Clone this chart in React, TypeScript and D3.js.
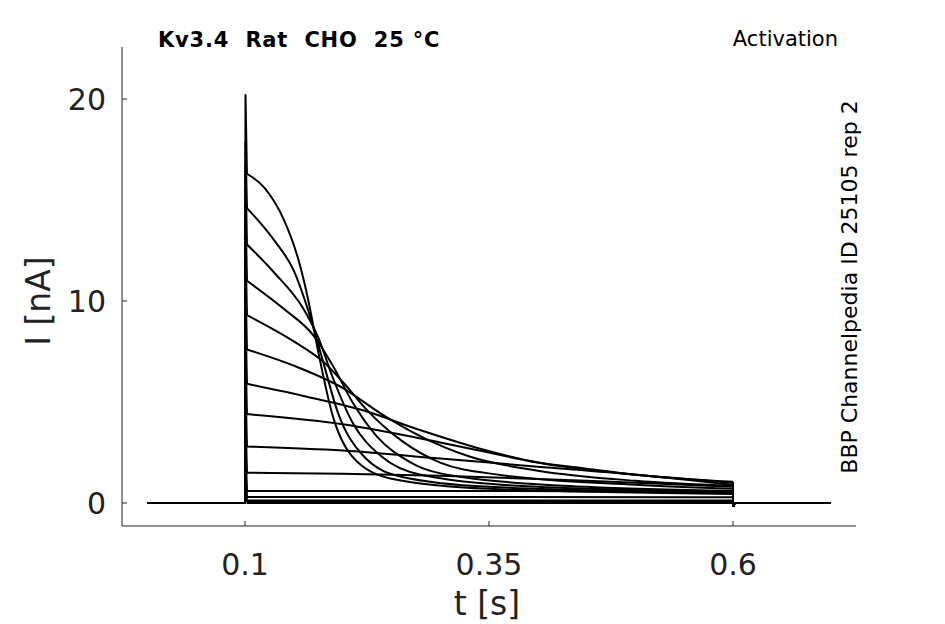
import React from 'react';
import * as d3 from 'd3';

// Samples: [t (s), I (nA)] after stimulus onset
const spikePeaks = [20.2, 17.9, 16.8, 14.8, 13.0, 11.2, 9.5, 7.8, 6.1, 4.6, 3.0, 1.7, 0.8, 0.4, 0.2];

const traces: [number, number][][] = [
  [[0.102, 16.3], [0.12, 15.6], [0.14, 14.0], [0.155, 12.0], [0.165, 10.0], [0.175, 7.5], [0.19, 4.3], [0.21, 2.3], [0.25, 1.2], [0.35, 0.7], [0.6, 0.45]],
  [[0.102, 14.6], [0.13, 13.0], [0.15, 11.5], [0.165, 9.5], [0.18, 7.0], [0.195, 4.5], [0.22, 2.4], [0.26, 1.3], [0.35, 0.8], [0.6, 0.5]],
  [[0.102, 12.8], [0.13, 11.4], [0.16, 9.6], [0.175, 8.2], [0.19, 6.2], [0.21, 4.0], [0.24, 2.3], [0.28, 1.4], [0.4, 0.8], [0.6, 0.55]],
  [[0.102, 11.0], [0.14, 9.6], [0.17, 8.3], [0.19, 6.8], [0.21, 5.0], [0.235, 3.3], [0.27, 2.0], [0.32, 1.3], [0.45, 0.8], [0.6, 0.6]],
  [[0.102, 9.3], [0.15, 8.0], [0.18, 7.0], [0.2, 6.0], [0.225, 4.6], [0.26, 3.1], [0.3, 2.0], [0.36, 1.4], [0.5, 0.9], [0.6, 0.7]],
  [[0.102, 7.6], [0.15, 6.8], [0.2, 5.7], [0.24, 4.4], [0.28, 3.3], [0.33, 2.3], [0.4, 1.6], [0.5, 1.1], [0.6, 0.85]],
  [[0.102, 5.9], [0.16, 5.3], [0.22, 4.6], [0.28, 3.6], [0.34, 2.7], [0.4, 2.0], [0.48, 1.5], [0.55, 1.2], [0.6, 1.0]],
  [[0.102, 4.4], [0.2, 3.9], [0.3, 3.0], [0.35, 2.5], [0.4, 2.0], [0.45, 1.7], [0.5, 1.4], [0.6, 1.05]],
  [[0.102, 2.8], [0.2, 2.6], [0.3, 2.2], [0.4, 1.8], [0.5, 1.4], [0.6, 0.9]],
  [[0.102, 1.5], [0.2, 1.45], [0.3, 1.35], [0.45, 1.1], [0.6, 0.8]],
  [[0.102, 0.6], [0.3, 0.6], [0.6, 0.55]],
  [[0.102, 0.3], [0.3, 0.3], [0.6, 0.28]],
  [[0.102, 0.12], [0.6, 0.12]],
  [[0.102, 0.05], [0.6, 0.05]],
  [[0.102, 0.0], [0.6, 0.0]],
];

const xTicks = [0.1, 0.35, 0.6];
const yTicks = [0, 10, 20];

export default function App() {
  const x = d3.scaleLinear().domain([0.1, 0.6]).range([245, 733]);
  const y = d3.scaleLinear().domain([0, 20]).range([503, 99]);
  const smooth = d3.line<[number, number]>().x(d => x(d[0])).y(d => y(d[1])).curve(d3.curveMonotoneX);
  const linear = d3.line<[number, number]>().x(d => x(d[0])).y(d => y(d[1]));

  const paths = traces.map((tr, i) => {
    const first = tr[0];
    const last = tr[tr.length - 1];
    const pre = linear([[0.0, 0], [0.1, 0], [0.1005, spikePeaks[i]], first]);
    const mid = smooth(tr);
    const post = linear([last, [0.6, 0], [0.6005, -0.15], [0.602, 0], [0.7, 0]]);
    return `${pre}${mid}${post}`;
  });

  const font = 'DejaVu Sans, sans-serif';
  return (
    <svg width={945} height={624} style={{ position: 'absolute', left: 0, top: 0, background: '#fff' }}>
      <g fill="none" stroke="#000" strokeWidth={2} strokeLinejoin="round">
        {paths.map((p, i) => <path key={i} d={p} />)}
      </g>
      <line x1={122} x2={122} y1={47} y2={526} stroke="#222" strokeWidth={1} />
      <line x1={122} x2={856} y1={526} y2={526} stroke="#222" strokeWidth={1} />
      {yTicks.map(t => (
        <g key={t}>
          <line x1={122} x2={127} y1={y(t)} y2={y(t)} stroke="#222" />
          <text x={106} y={y(t)} dy="0.35em" textAnchor="end" fontSize={30} fontFamily={font} fill="#222">{t}</text>
        </g>
      ))}
      {xTicks.map(t => (
        <g key={t}>
          <line x1={x(t)} x2={x(t)} y1={526} y2={521} stroke="#222" />
          <text x={x(t)} y={575} textAnchor="middle" fontSize={30} fontFamily={font} fill="#222">{t}</text>
        </g>
      ))}
      <text x={487} y={615} textAnchor="middle" fontSize={33} fontFamily={font} fill="#222">t [s]</text>
      <text transform="translate(50,301) rotate(-90)" textAnchor="middle" fontSize={33} fontFamily={font} fill="#222">I [nA]</text>
      <text x={158} y={47} fontSize={21} fontWeight="bold" letterSpacing={0.8} fontFamily={font} fill="#000" style={{ whiteSpace: 'pre' }}>Kv3.4  Rat  CHO  25 °C</text>
      <text x={838} y={46} textAnchor="end" fontSize={21} fontFamily={font} fill="#000">Activation</text>
      <text transform="translate(857,287) rotate(-90)" textAnchor="middle" fontSize={22} fontFamily={font} fill="#000">BBP Channelpedia ID 25105 rep 2</text>
    </svg>
  );
}
